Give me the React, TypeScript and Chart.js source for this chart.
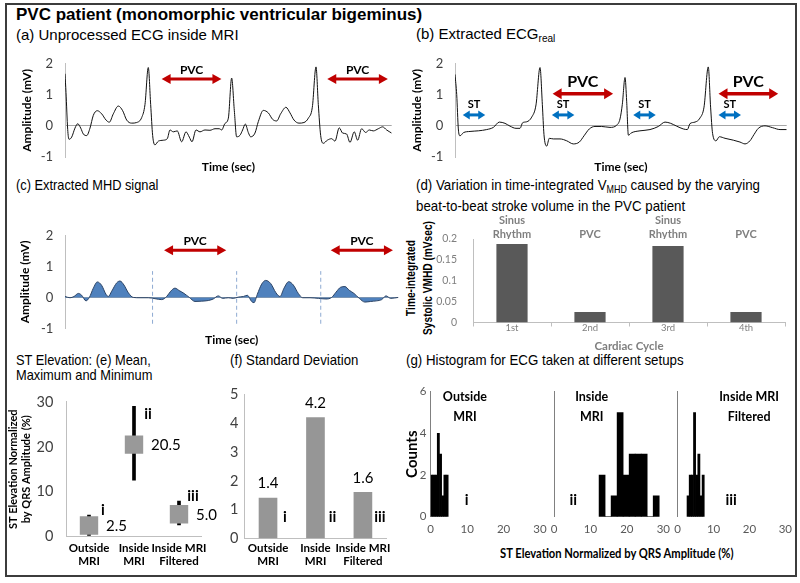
import React, { useEffect, useRef } from 'react';
import { Chart, registerables } from 'chart.js';

Chart.register(...registerables);

// ================= DATA =================
// (a) Unprocessed ECG inside MRI  [time s, amplitude mV]
const rawEcg = [
  [0.0, 1.68], [0.013, 1.08], [0.035, -0.11], [0.052, -0.43], [0.087, -0.36], [0.13, -0.07], [0.166, 0.07], [0.205, -0.07],
  [0.239, -0.26], [0.283, -0.31], [0.326, -0.07], [0.369, 0.34], [0.421, 0.49], [0.478, 0.39], [0.535, 0.19], [0.578, 0.12],
  [0.63, 0.39], [0.695, 0.64], [0.752, 0.49], [0.804, 0.19], [0.87, 0.09], [0.935, 0.11], [1.0, 0.27], [1.043, 0.69],
  [1.086, 1.88], [1.117, 0.69], [1.143, -0.31], [1.173, -0.61], [1.217, -0.49], [1.282, -0.46], [1.334, -0.41], [1.369, -0.13],
  [1.412, -0.19], [1.464, -0.16], [1.521, -0.51], [1.578, -0.19], [1.621, -0.36], [1.656, -0.51], [1.708, -0.13], [1.76, -0.19],
  [1.825, -0.13], [1.89, -0.14], [1.956, -0.09], [2.012, -0.09], [2.043, -0.13], [2.086, 0.08], [2.13, 0.25], [2.173, 1.54],
  [2.208, 0.49], [2.238, -0.35], [2.282, -0.3], [2.316, -0.13], [2.351, 0.06], [2.39, -0.21], [2.421, -0.35], [2.477, -0.23],
  [2.521, 0.14], [2.586, 0.5], [2.651, 0.42], [2.708, 0.21], [2.76, 0.16], [2.812, 0.39], [2.881, 0.6], [2.934, 0.42],
  [2.986, 0.19], [3.051, 0.09], [3.116, 0.11], [3.173, 0.25], [3.225, 0.6], [3.273, 1.9], [3.303, 0.69], [3.334, -0.31],
  [3.368, -0.56], [3.42, -0.46], [3.477, -0.41], [3.52, -0.49], [3.576, -0.06], [3.62, -0.23], [3.672, -0.26], [3.716, -0.53],
  [3.772, -0.19], [3.816, -0.46], [3.868, -0.09], [3.92, -0.21], [3.968, -0.13], [4.02, -0.16], [4.085, -0.09], [4.142, -0.03],
  [4.194, -0.13], [4.259, -0.23],
];

// (b) Extracted ECG real
const realEcg = [
  [0, 1.65], [0.022, 1.0], [0.043, -0.1], [0.065, -0.32], [0.108, -0.22], [0.194, -0.18], [0.301, -0.16], [0.409, -0.12],
  [0.495, -0.05], [0.572, 0.12], [0.645, 0.08], [0.71, -0.01], [0.787, -0.08], [0.839, -0.08], [0.873, 0.1], [0.925, 0.13],
  [0.99, 0.28], [1.045, 0.67], [1.097, 1.87], [1.127, 0.69], [1.148, -0.28], [1.183, -0.65], [1.217, -0.4], [1.269, -0.42],
  [1.355, -0.42], [1.441, -0.48], [1.527, -0.58], [1.604, -0.52], [1.665, -0.32], [1.733, -0.1], [1.806, -0.02], [1.892, -0.02],
  [2.0, -0.05], [2.086, 0.02], [2.129, 0.22], [2.159, 0.69], [2.194, 1.55], [2.215, 0.79], [2.237, -0.3], [2.28, -0.22],
  [2.387, -0.16], [2.516, -0.12], [2.624, -0.02], [2.71, 0.12], [2.783, 0.08], [2.86, -0.01], [2.946, -0.1], [2.998, -0.12],
  [3.032, 0.07], [3.097, 0.12], [3.161, 0.25], [3.213, 0.6], [3.268, 1.89], [3.298, 0.6], [3.324, -0.25], [3.368, -0.48],
  [3.411, -0.35], [3.484, -0.4], [3.591, -0.46], [3.677, -0.52], [3.742, -0.58], [3.806, -0.48], [3.858, -0.28], [3.914, -0.08],
  [4.0, 0.0], [4.099, -0.06], [4.194, -0.12], [4.28, -0.12],
];

// (c) Extracted MHD signal
const mhdSignal = [
  [0, 0.03], [0.065, -0.01], [0.117, 0.03], [0.174, 0.13], [0.217, 0.07], [0.273, -0.11], [0.317, 0], [0.369, 0.3],
  [0.421, 0.5], [0.477, 0.39], [0.534, 0.1], [0.564, 0.03], [0.608, 0.2], [0.673, 0.47], [0.716, 0.53], [0.768, 0.4],
  [0.825, 0.15], [0.889, 0], [0.977, -0.01], [1.085, -0.01], [1.172, -0.04], [1.259, -0.07], [1.324, 0.03], [1.376, 0.2],
  [1.432, 0.3], [1.488, 0.22], [1.55, 0.13], [1.619, 0], [1.693, -0.13], [1.78, -0.12], [1.866, -0.1], [1.931, -0.05],
  [1.996, 0.05], [2.053, -0.03], [2.126, -0.01], [2.191, -0.03], [2.256, 0.01], [2.322, 0.03], [2.374, 0.07], [2.43, -0.13],
  [2.461, -0.17], [2.504, 0.1], [2.561, 0.43], [2.613, 0.55], [2.678, 0.45], [2.747, 0.15], [2.799, 0.03], [2.852, 0.3],
  [2.913, 0.51], [2.973, 0.4], [3.038, 0.13], [3.095, -0.01], [3.19, -0.01], [3.299, -0.03], [3.398, -0.05], [3.472, 0],
  [3.529, 0.17], [3.59, 0.33], [3.646, 0.35], [3.702, 0.23], [3.763, 0.13], [3.832, -0.03], [3.906, -0.15], [3.98, -0.13],
  [4.059, -0.11], [4.124, -0.07], [4.18, 0.05], [4.241, -0.03], [4.34, 0],
];
const beatBoundaries = [1.14, 2.235, 3.33];
const boundaryRange = [-0.85, 0.85];

// annotation arrows [from, to] in seconds
const pvcSpansA = [[1.26, 2.04], [3.42, 4.21]];
const pvcSpansB = [[1.26, 2.04], [3.4, 4.17]];
const stSpansB = [[0.1, 0.39], [1.25, 1.54], [2.3, 2.59], [3.4, 3.69]];
const pvcSpansC = [[1.29, 2.1], [3.46, 4.27]];

// (d) time-integrated systolic VMHD
const cycleLabels = ['1st', '2nd', '3rd', '4th'];
const rhythmLabels = [['Sinus', 'Rhythm'], 'PVC', ['Sinus', 'Rhythm'], 'PVC'];
const mhdIntegral = [0.188, 0.025, 0.183, 0.025];

// (e)/(f) ST elevation statistics
const setupLabels = [['Outside', 'MRI'], ['Inside', 'MRI'], ['Inside MRI', 'Filtered']];
const stMean = [2.5, 20.5, 5.0];
const stMax = [4.8, 29.0, 7.9];
const stMin = [0.3, 12.6, 2.6];
const stStd = [1.4, 4.2, 1.6];
const romanNums = ['i', 'ii', 'iii'];
const romanYe = [5.9, 27.3, 9.0];
const romanYf = 0.74;

// (g) histograms: bin centres and counts
const hist1Bins = [0.3, 0.9, 1.5, 2.1, 2.7, 3.3, 3.9, 4.5];
const hist1Counts = [2, 2, 2, 4, 3, 1, 2, 2];
const hist2Bins = [13.2, 14.85, 16.5, 18.15, 19.8, 21.45, 23.1, 24.75, 26.4, 28.05];
const hist2Counts = [2, 0, 1, 5, 2, 3, 3, 3, 0, 1];
const hist3Bins = [2.9, 3.5, 4.1, 4.7, 5.3, 5.9, 6.5, 7.1];
const hist3Counts = [1, 2, 2, 5, 2, 3, 1, 2];
const histLabelX = [9.4, 10.35, 19.9];
const histRomanX = [9.9, 5.3, 14.9];
const histLabelY = 5.77;
const histRomanY = 0.8;

// ================= STYLE HELPERS =================
const CAL = 'Lato, "Open Sans", sans-serif';
const ARIAL = '"Liberation Sans", Arial, sans-serif';
const CLEAR = 'rgba(0,0,0,0)';
const fixW = (w: number) => (s: any) => { s.width = w; };
const fixH = (h: number) => (s: any) => { s.height = h; };

const baseOpts = {
  animation: false,
  responsive: false,
  maintainAspectRatio: false,
  events: [],
};
const noPlugins = { legend: { display: false }, tooltip: { enabled: false } };

function arrowPlugin(specs: any[]) {
  return {
    id: 'arrows',
    afterDatasetsDraw(chart: any) {
      const { ctx } = chart;
      const xs = chart.scales.x;
      const ys = chart.scales.y;
      specs.forEach((s) => {
        s.spans.forEach(([a, b]: number[]) => {
          const x1 = xs.getPixelForValue(a);
          const x2 = xs.getPixelForValue(b);
          const py = ys.getPixelForValue(s.level);
          ctx.save();
          ctx.strokeStyle = s.color;
          ctx.fillStyle = s.color;
          ctx.lineWidth = s.width;
          ctx.beginPath();
          ctx.moveTo(x1 + s.head - 1, py);
          ctx.lineTo(x2 - s.head + 1, py);
          ctx.stroke();
          ctx.beginPath();
          ctx.moveTo(x1, py);
          ctx.lineTo(x1 + s.head, py - s.headW);
          ctx.lineTo(x1 + s.head, py + s.headW);
          ctx.closePath();
          ctx.fill();
          ctx.beginPath();
          ctx.moveTo(x2, py);
          ctx.lineTo(x2 - s.head, py - s.headW);
          ctx.lineTo(x2 - s.head, py + s.headW);
          ctx.closePath();
          ctx.fill();
          if (s.label) {
            ctx.font = s.font;
            ctx.fillStyle = '#000';
            ctx.textAlign = 'center';
            ctx.textBaseline = 'middle';
            ctx.fillText(s.label, (x1 + x2) / 2, py + s.labelDy);
          }
          ctx.restore();
        });
      });
    },
  };
}

function markPlugin(marks: any[]) {
  return {
    id: 'marks',
    afterDatasetsDraw(chart: any) {
      const { ctx } = chart;
      const xs = chart.scales.x;
      const ys = chart.scales.y;
      marks.forEach((m) => {
        const px = xs.getPixelForValue(m.x) + (m.dx || 0);
        const py = ys.getPixelForValue(m.y) + (m.dy || 0);
        ctx.save();
        ctx.font = m.font;
        ctx.fillStyle = m.color || '#000';
        ctx.textAlign = m.align || 'center';
        ctx.textBaseline = 'middle';
        const lines = Array.isArray(m.text) ? m.text : [m.text];
        lines.forEach((l: string, k: number) => ctx.fillText(l, px, py + k * (m.lh || 0)));
        ctx.restore();
      });
    },
  };
}

function makeEcg(p: any) {
  const datasets: any[] = [
    {
      data: p.points.map(([x, y]: number[]) => ({ x, y })),
      borderColor: p.lineColor,
      borderWidth: p.lineWidth,
      backgroundColor: p.fillColor || CLEAR,
      fill: p.fillColor ? 'origin' : false,
      pointRadius: 0,
      cubicInterpolationMode: 'monotone',
      order: 1,
    },
  ];
  (p.boundaries || []).forEach((t: number) =>
    datasets.push({
      data: boundaryRange.map((y) => ({ x: t, y })),
      borderColor: '#8eaad2',
      borderWidth: 1,
      borderDash: [4, 3],
      pointRadius: 0,
      fill: false,
      order: 0,
    })
  );
  return {
    type: 'line',
    data: { datasets },
    options: {
      ...baseOpts,
      layout: { padding: { left: 0, top: p.padTop, right: p.padRight, bottom: 0 } },
      plugins: noPlugins,
      scales: {
        x: {
          type: 'linear',
          min: 0,
          max: p.max,
          afterFit: fixH(p.xHeight),
          grid: { display: false, drawTicks: false },
          border: { display: false },
          ticks: { stepSize: 1, includeBounds: false, padding: p.xTickPad, color: '#404040', font: { family: CAL, size: 13 }, maxRotation: 0 },
          title: { display: true, text: 'Time (sec)', color: '#000', font: { family: CAL, size: 12, weight: 'bold' }, padding: { top: 0, bottom: p.xTitlePad } },
        },
        y: {
          min: -1,
          max: 2,
          afterFit: fixW(p.yWidth),
          grid: { color: (c: any) => (c.tick && c.tick.value === 0 ? '#a6a6a6' : CLEAR), drawTicks: false },
          border: { display: true, color: '#bfbfbf' },
          ticks: { stepSize: 1, padding: p.yTickPad, color: '#404040', font: { family: CAL, size: 13 } },
          title: { display: true, text: 'Amplitude (mV)', color: '#000', font: { family: CAL, size: 12, weight: 'bold' }, padding: { top: p.yTitlePad, bottom: 0 } },
        },
      },
    },
    plugins: [arrowPlugin(p.arrows)],
  };
}

const redArrow = (spans: number[][], level: number, big: boolean) => ({
  spans,
  level,
  color: '#c00000',
  width: big ? 3.5 : 3,
  head: 9,
  headW: big ? 5.5 : 5,
  label: 'PVC',
  font: big ? `bold 16px ${CAL}` : `bold 12px ${CAL}`,
  labelDy: big ? -12 : -9,
});

const cfgA = () =>
  makeEcg({
    points: rawEcg, lineColor: '#111', lineWidth: 1, max: 4.26,
    padTop: 12, padRight: 8.3, xHeight: 22, yWidth: 55,
    yTickPad: 12, yTitlePad: 9.5, xTickPad: -20, xTitlePad: 4.8,
    arrows: [redArrow(pvcSpansA, 1.51, false)],
  });

const cfgB = () =>
  makeEcg({
    points: realEcg, lineColor: '#111', lineWidth: 1, max: 4.28,
    padTop: 12, padRight: 11.3, xHeight: 22, yWidth: 55,
    yTickPad: 11.7, yTitlePad: 9.8, xTickPad: -18, xTitlePad: 5.1,
    arrows: [
      redArrow(pvcSpansB, 1.03, true),
      { spans: stSpansB, level: 0.35, color: '#0070c0', width: 3, head: 7, headW: 4.5, label: 'ST', font: `bold 11px ${CAL}`, labelDy: -10 },
    ],
  });

const cfgC = () =>
  makeEcg({
    points: mhdSignal, lineColor: '#2c4466', lineWidth: 1, fillColor: '#4f81bd', boundaries: beatBoundaries, max: 4.34,
    padTop: 12, padRight: 3.7, xHeight: 22.6, yWidth: 55,
    yTickPad: 11.7, yTitlePad: 7.8, xTickPad: -21.2, xTitlePad: 3.8,
    arrows: [redArrow(pvcSpansC, 1.52, false)],
  });

const cfgD = () => ({
  type: 'bar',
  data: {
    labels: cycleLabels,
    datasets: [{ data: mhdIntegral, backgroundColor: '#595959', barPercentage: 0.4, categoryPercentage: 1 }],
  },
  options: {
    ...baseOpts,
    layout: { padding: { left: 0, top: 0, right: 13, bottom: 0 } },
    plugins: noPlugins,
    scales: {
      x: {
        position: 'bottom',
        offset: true,
        afterFit: fixH(35.5),
        grid: { display: true, drawOnChartArea: false, drawTicks: true, tickLength: 4, offset: true, color: '#bfbfbf' },
        border: { display: true, color: '#bfbfbf' },
        ticks: { padding: -3.9, color: '#7f7f7f', font: { family: CAL, size: 9.5 } },
        title: { display: true, text: 'Cardiac Cycle', color: '#7f7f7f', font: { family: CAL, size: 11.5, weight: 'bold' }, padding: { top: 0, bottom: 4.4 } },
      },
      xTop: {
        type: 'category',
        position: 'top',
        labels: rhythmLabels,
        offset: true,
        afterFit: fixH(31),
        grid: { display: false, drawTicks: false },
        border: { display: false },
        ticks: { padding: -1.6, color: '#7f7f7f', font: { family: CAL, size: 11, weight: 'bold' } },
      },
      y: {
        min: 0,
        max: 0.2,
        afterFit: fixW(73),
        grid: { display: false, drawTicks: false },
        border: { display: true, color: '#bfbfbf' },
        ticks: { stepSize: 0.05, padding: 16, color: '#7f7f7f', font: { family: CAL, size: 10.5 }, callback: (v: number) => String(Math.round(v * 100) / 100) },
      },
    },
  },
});

const catX = (h: number, pad: number) => ({
  afterFit: fixH(h),
  grid: { display: false, drawTicks: false },
  border: { display: true, color: '#bfbfbf' },
  ticks: { padding: pad, color: '#000', font: { family: CAL, size: 11.5, weight: 'bold', lineHeight: 13.4 / 11.5 }, maxRotation: 0, autoSkip: false },
});

const cfgE = () => ({
  type: 'bar',
  data: {
    labels: setupLabels,
    datasets: [
      { type: 'line', data: stMean, showLine: false, pointStyle: 'rect', pointRadius: 13, pointBackgroundColor: '#999999', pointBorderColor: '#999999', pointBorderWidth: 0, order: 0 },
      { type: 'bar', data: stMin.map((m, i) => [m, stMax[i]]), backgroundColor: '#000', barThickness: 3, order: 1 },
    ],
  },
  options: {
    ...baseOpts,
    layout: { padding: { left: 0, top: 11.7, right: 30.5, bottom: 0 } },
    plugins: noPlugins,
    scales: {
      x: catX(40.3, 4.9),
      y: {
        min: 0,
        max: 30,
        afterFit: fixW(66.5),
        grid: { display: false, drawTicks: false },
        border: { display: true, color: '#bfbfbf' },
        ticks: { stepSize: 10, padding: 13.2, color: '#404040', font: { family: CAL, size: 14.5 } },
        title: {
          display: true,
          text: ['ST Elevation Normalized', 'by QRS Amplitude (%)'],
          color: '#000',
          font: { family: CAL, size: 11, weight: 'bold', lineHeight: 13.4 / 11 },
          padding: { top: 6.6, bottom: 0 },
        },
      },
    },
  },
  plugins: [
    markPlugin([
      ...stMean.map((v, i) => ({ x: i, y: v, text: v.toFixed(1), dx: 17, dy: 1, align: 'left', font: `15px ${CAL}` })),
      ...romanNums.map((r, i) => ({ x: i, y: romanYe[i], text: r, dx: 14, font: `bold 15px ${CAL}` })),
    ]),
  ],
});

const cfgF = () => ({
  type: 'bar',
  data: {
    labels: setupLabels,
    datasets: [{ data: stStd, backgroundColor: '#969696', barThickness: 18 }],
  },
  options: {
    ...baseOpts,
    layout: { padding: { left: 0, top: 12.7, right: 8, bottom: 0 } },
    plugins: noPlugins,
    scales: {
      x: catX(38.7, 3.3),
      y: {
        min: 0,
        max: 5,
        afterFit: fixW(29.3),
        grid: { display: false, drawTicks: false },
        border: { display: true, color: '#bfbfbf' },
        ticks: { stepSize: 1, padding: 6, color: '#404040', font: { family: CAL, size: 14.5 } },
      },
    },
  },
  plugins: [
    markPlugin([
      ...stStd.map((v, i) => ({ x: i, y: v, text: v.toFixed(1), dy: -14.5, font: `15px ${CAL}` })),
      ...romanNums.map((r, i) => ({ x: i, y: romanYf, text: r, dx: 17, font: `bold 15px ${CAL}` })),
    ]),
  ],
});

function makeHist(bins: number[], counts: number[], idx: number, p: any) {
  return {
    type: 'bar',
    data: {
      datasets: [{ data: bins.map((x, i) => ({ x, y: counts[i] })), backgroundColor: '#000', barPercentage: 1, categoryPercentage: 1, borderWidth: 0 }],
    },
    options: {
      ...baseOpts,
      layout: { padding: { left: p.padL, top: 11.7, right: p.padR, bottom: 0 } },
      plugins: noPlugins,
      scales: {
        x: {
          type: 'linear',
          min: 0,
          max: 30,
          offset: false,
          afterFit: fixH(58.3),
          grid: { display: false, drawTicks: false },
          border: { display: false },
          ticks: { stepSize: 10, includeBounds: false, padding: 6, color: '#595959', font: { family: CAL, size: 11.5 }, maxRotation: 0 },
        },
        y: {
          min: 0,
          max: 6,
          afterFit: fixW(p.yWidth),
          grid: { display: false, drawTicks: false },
          border: { display: true, color: '#808080' },
          ticks: { display: !!p.showY, stepSize: 2, padding: 4.2, color: '#595959', font: { family: CAL, size: 11.5 } },
          title: p.showY
            ? { display: true, text: 'Counts', color: '#000', font: { family: CAL, size: 15, weight: 'bold' }, padding: { top: 3.5, bottom: 0 } }
            : { display: false },
        },
      },
    },
    plugins: [
      markPlugin([
        { x: histLabelX[idx], y: histLabelY, text: setupLabels[idx], lh: 20, font: `bold 12.5px ${CAL}` },
        { x: histRomanX[idx], y: histRomanY, text: romanNums[idx], font: `bold 15px ${CAL}` },
      ]),
    ],
  };
}

const cfgG1 = () => makeHist(hist1Bins, hist1Counts, 0, { padL: 0, padR: 258, yWidth: 30.7, showY: true });
const cfgG2 = () => makeHist(hist2Bins, hist2Counts, 1, { padL: 154, padR: 134.7, yWidth: 0 });
const cfgG3 = () => makeHist(hist3Bins, hist3Counts, 2, { padL: 277.7, padR: 11.3, yWidth: 0 });

// ================= COMPONENTS =================
function ChartCanvas({ x, y, w, h, config }: any) {
  const ref = useRef<HTMLCanvasElement>(null);
  useEffect(() => {
    const chart = new Chart(ref.current as HTMLCanvasElement, config() as any);
    return () => chart.destroy();
  }, []);
  return <canvas ref={ref} width={w} height={h} style={{ position: 'absolute', left: x, top: y, width: w, height: h }} />;
}

function Txt({ x, y, size, bold, sx = 1, lh, family = ARIAL, children }: any) {
  return (
    <div
      style={{
        position: 'absolute',
        left: x,
        top: y,
        fontFamily: family,
        fontSize: size,
        fontWeight: bold ? 700 : 400,
        lineHeight: `${lh ?? size}px`,
        whiteSpace: 'nowrap',
        transform: `scaleX(${sx})`,
        transformOrigin: '0 0',
        color: '#000',
      }}
    >
      {children}
    </div>
  );
}

function RotTxt({ cx, cy, size, sx, lh, children }: any) {
  return (
    <div
      style={{
        position: 'absolute',
        left: cx,
        top: cy,
        transform: `translate(-50%, -50%) rotate(-90deg) scaleX(${sx})`,
        fontFamily: ARIAL,
        fontWeight: 700,
        fontSize: size,
        lineHeight: `${lh}px`,
        textAlign: 'center',
        whiteSpace: 'nowrap',
        color: '#000',
      }}
    >
      {children}
    </div>
  );
}

const Sub = ({ children }: any) => (
  <span style={{ fontSize: '0.67em', position: 'relative', top: 3 }}>{children}</span>
);

export default function App() {
  return (
    <div style={{ position: 'absolute', left: 0, top: 0, width: 800, height: 583, background: '#fff', overflow: 'hidden' }}>
      <div style={{ position: 'absolute', left: 5, top: 3, width: 792, height: 574, border: '2px solid #3c3c3c', boxSizing: 'border-box' }} />
      <Txt x={16} y={6.3} size={17} bold>PVC patient (monomorphic ventricular bigeminus)</Txt>
      <Txt x={16} y={26.6} size={15}>(a) Unprocessed ECG inside MRI</Txt>
      <Txt x={416} y={26.4} size={15}>(b) Extracted ECG<Sub>real</Sub></Txt>
      <Txt x={16} y={178.4} size={14.5} sx={0.884}>(c) Extracted MHD signal</Txt>
      <Txt x={416} y={176.2} size={15} sx={0.887} lh={18.6}>
        (d) Variation in time-integrated V<Sub>MHD</Sub> caused by the varying
        <br />
        beat-to-beat stroke volume in the PVC patient
      </Txt>
      <RotTxt cx={418.5} cy={278} size={13} sx={0.78} lh={17}>
        Time-integrated
        <br />
        Systolic VMHD (mVsec)
      </RotTxt>
      <Txt x={16} y={353} size={14.5} sx={0.886} lh={15.3}>
        ST Elevation: (e) Mean,
        <br />
        Maximum and Minimum
      </Txt>
      <Txt x={229.5} y={352.7} size={14.5} sx={0.91}>(f) Standard Deviation</Txt>
      <Txt x={406} y={353.4} size={14.5} sx={0.917}>(g) Histogram for ECG taken at different setups</Txt>
      <Txt x={499.5} y={546} size={14} sx={0.8} bold family={CAL}>ST Elevation Normalized by QRS Amplitude (%)</Txt>

      <ChartCanvas x={10} y={44} w={390} h={135} config={cfgA} />
      <ChartCanvas x={400} y={44} w={398} h={135} config={cfgB} />
      <ChartCanvas x={10} y={216} w={392} h={135} config={cfgC} />
      <ChartCanvas x={400} y={208} w={398} h={150} config={cfgD} />
      <ChartCanvas x={0} y={380} w={232} h={197} config={cfgE} />
      <ChartCanvas x={215} y={380} w={180} h={197} config={cfgF} />
      <ChartCanvas x={400} y={380} w={398} h={195} config={cfgG1} />
      <ChartCanvas x={400} y={380} w={398} h={195} config={cfgG2} />
      <ChartCanvas x={400} y={380} w={398} h={195} config={cfgG3} />
    </div>
  );
}
